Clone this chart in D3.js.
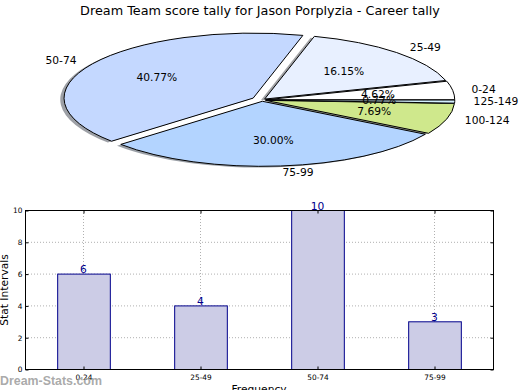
<!DOCTYPE html>
<html><head><meta charset="utf-8">
<script src="https://cdn.jsdelivr.net/npm/d3@7"></script>
<style>body{margin:0;background:#fff}svg{display:block;font-family:"DejaVu Sans",sans-serif}</style>
</head><body>
<script>
const title = "Dream Team score tally for Jason Porplyzia - Career tally";
const pieLabels = ["0-24","25-49","50-74","75-99","100-124","125-149"];
const pieValues = [6,21,53,39,10,1];
const pieColors = ["#ffffff","#e8f0ff","#c4d8ff","#b3d4ff","#cfe88c","#d4f0ff"];
const pieExplode = [0.02,0.02,0.055,0.02,0.02,0.02];

const barCategories = ["0-24","25-49","50-74","75-99"];
const barValues = [6,4,10,3];
const yTicks = [0,2,4,6,8,10];

const W=520,H=390;
const svg=d3.select("body").append("svg").attr("width",W).attr("height",H);

svg.append("text").attr("x",260).attr("y",15).attr("text-anchor","middle")
  .attr("font-size",12.8).text(title);

// ---- Pie ----
const cx=262, cy=100, rx=189, ry=65;
const pie=d3.pie().sort(null).startAngle(Math.PI/2).endAngle(Math.PI/2-2*Math.PI);
const arcs=pie(pieValues);
const arcGen=d3.arc().innerRadius(0).outerRadius(1);
const total=d3.sum(pieValues);
const items=arcs.map((a,i)=>{
  const mid=(a.startAngle+a.endAngle)/2;
  const th=Math.PI/2-mid;
  const e=pieExplode[i];
  return {a,i,th,ox:cx+e*Math.cos(th)*rx,oy:cy-e*Math.sin(th)*ry};
});
const pg=svg.append("g");
items.forEach(d=>{
  const c=d3.color(pieColors[d.i]);
  pg.append("path").attr("d",arcGen(d.a))
    .attr("transform",`translate(${d.ox-0.02*rx},${d.oy+0.02*ry}) scale(${rx},${ry})`)
    .attr("fill",d3.rgb(c.r*0.3,c.g*0.3,c.b*0.3)).attr("fill-opacity",0.5);
});
items.forEach(d=>{
  pg.append("path").attr("d",arcGen(d.a))
    .attr("transform",`translate(${d.ox},${d.oy}) scale(${rx},${ry})`)
    .attr("fill",pieColors[d.i]).attr("stroke","#000").attr("stroke-width",1)
    .attr("vector-effect","non-scaling-stroke");
});
items.forEach(d=>{
  const lx=d.ox+1.1*rx*Math.cos(d.th), ly=d.oy-1.1*ry*Math.sin(d.th);
  pg.append("text").attr("x",lx).attr("y",ly).attr("dominant-baseline","central")
    .attr("text-anchor",Math.cos(d.th)>0?"start":"end").attr("font-size",10.7)
    .text(pieLabels[d.i]);
  const px=d.ox+0.6*rx*Math.cos(d.th), py=d.oy-0.6*ry*Math.sin(d.th);
  pg.append("text").attr("x",px).attr("y",py).attr("dominant-baseline","central")
    .attr("text-anchor","middle").attr("font-size",10.7)
    .text((pieValues[d.i]/total*100).toFixed(2)+"%");
});

// ---- Bars ----
const L=25,R=493,T=210,B=369;
const x=d3.scaleBand().domain(barCategories).range([L,R]).paddingInner(0.55).paddingOuter(0.275);
const y=d3.scaleLinear().domain([0,10]).range([B,T]);
const g=svg.append("g");
g.selectAll(".hg").data(yTicks).join("line").attr("x1",L).attr("x2",R)
  .attr("y1",d=>y(d)+0.5).attr("y2",d=>y(d)+0.5)
  .attr("stroke","#b0b0b0").attr("stroke-dasharray","1,2");
g.selectAll(".vg").data(barCategories).join("line")
  .attr("x1",d=>x(d)+x.bandwidth()/2).attr("x2",d=>x(d)+x.bandwidth()/2)
  .attr("y1",T).attr("y2",B).attr("stroke","#b0b0b0").attr("stroke-dasharray","1,2");
g.selectAll(".bar").data(barValues).join("rect")
  .attr("x",(d,i)=>x(barCategories[i])+0.5).attr("width",x.bandwidth())
  .attr("y",d=>y(d)+0.5).attr("height",d=>B-y(d))
  .attr("fill","#ccccE6").attr("stroke","#00008b").attr("stroke-width",1);
g.selectAll(".vl").data(barValues).join("text")
  .attr("x",(d,i)=>x(barCategories[i])+x.bandwidth()/2).attr("y",d=>y(d)-0.5)
  .attr("text-anchor","middle").attr("font-size",10.7).attr("fill","#00008b").text(d=>d);
g.append("rect").attr("x",L+0.5).attr("y",T+0.5).attr("width",R-L).attr("height",B-T)
  .attr("fill","none").attr("stroke","#000");
const yAx=g.append("g").attr("transform",`translate(${L+0.5},0.5)`)
  .call(d3.axisLeft(y).tickValues(yTicks).tickSize(-3).tickPadding(3));
const yAx2=g.append("g").attr("transform",`translate(${R+0.5},0.5)`)
  .call(d3.axisRight(y).tickValues(yTicks).tickSize(-3).tickFormat(""));
const xAx=g.append("g").attr("transform",`translate(0.5,${B+0.5})`)
  .call(d3.axisBottom(x).tickSize(-3).tickPadding(5));
const xAx2=g.append("g").attr("transform",`translate(0.5,${T+0.5})`)
  .call(d3.axisTop(x).tickSize(-3).tickFormat(""));
[yAx,yAx2,xAx,xAx2].forEach(a=>{a.select(".domain").remove();
  a.selectAll("text").attr("font-size",7.4).attr("font-family","DejaVu Sans").attr("fill","#000");
  a.selectAll("line").attr("stroke","#000");});

svg.append("text").attr("transform","translate(8,290) rotate(-90)").attr("text-anchor","middle")
  .attr("font-size",10.7).text("Stat Intervals");
svg.append("text").attr("x",259).attr("y",393).attr("text-anchor","middle")
  .attr("font-size",10.7).text("Frequency");
svg.append("text").attr("x",0).attr("y",385).attr("font-size",12.4).attr("font-weight","bold")
  .attr("font-family","'Liberation Sans',Arial,sans-serif")
  .attr("fill","#a0a0a0").attr("fill-opacity",0.9).text("Dream-Stats.com");
</script>
</body></html>
